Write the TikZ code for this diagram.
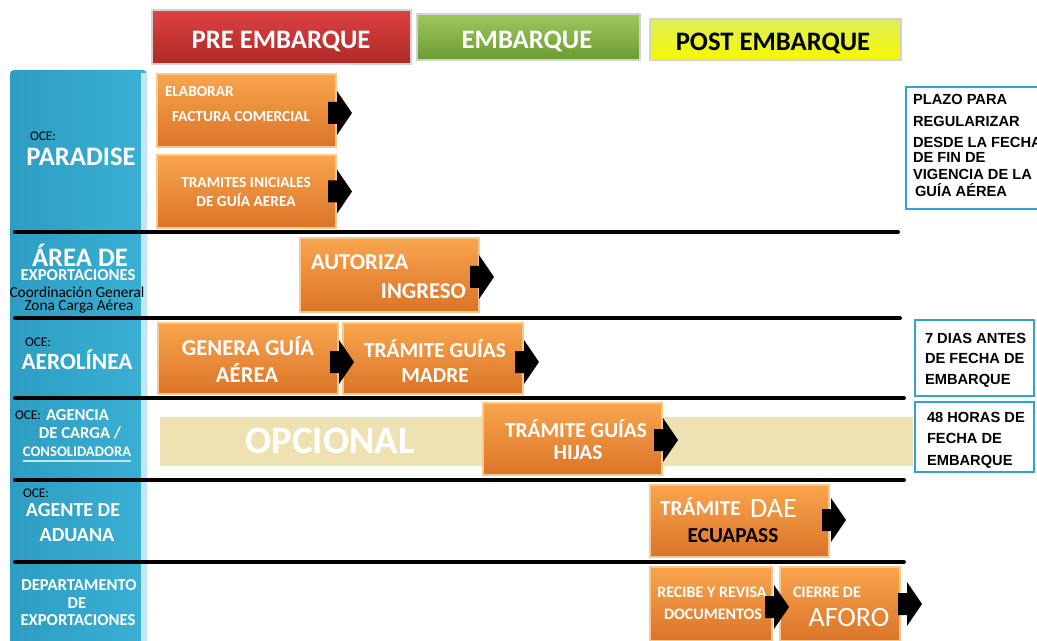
\documentclass[tikz,border=0pt]{standalone}
\usepackage{fontspec}
\setmainfont{Carlito}
\newfontfamily\notefont{Liberation Sans}
\usetikzlibrary{calc}

\definecolor{orTop}{HTML}{F9A54E}
\definecolor{orBot}{HTML}{DA7428}
\definecolor{orEdge}{HTML}{F8C98E}
\definecolor{redTop}{HTML}{DE4242}
\definecolor{redBot}{HTML}{AE2828}
\definecolor{grTop}{HTML}{9CC85E}
\definecolor{grBot}{HTML}{6C9A32}
\definecolor{ylTop}{HTML}{DDEE5C}
\definecolor{ylBot}{HTML}{F6F800}
\definecolor{colL}{HTML}{2E9DC3}
\definecolor{colR}{HTML}{3AB0D4}
\definecolor{colEdge}{HTML}{BFE8F4}
\definecolor{noteBlue}{HTML}{2EA3D5}
\definecolor{optBand}{HTML}{EEE2B3}

\newcommand\fsz[1]{\fontsize{#1pt}{#1pt}\selectfont}

\begin{document}
\begin{tikzpicture}[x=0.75pt,y=-0.75pt,
  every node/.style={inner sep=0pt,outer sep=0pt},
  sized/.style 2 args={anchor=north west,minimum width=#1*0.75pt,minimum height=#2*0.75pt},
  task/.style={draw=orEdge,line width=0.8pt,top color=orTop,bottom color=orBot},
  phase/.style={draw=gray!35,line width=0.8pt},
  note/.style={draw=noteBlue,line width=2.2pt,fill=white},
  lane/.style={line width=3pt,line cap=round},
  wt/.style={text=white,font=\bfseries\fsz{#1}},
  bk/.style={text=black,font=\bfseries\fsz{#1}},
  rg/.style={text=black,font=\fsz{#1}},
  wr/.style={text=white,font=\fsz{#1}},
  nt/.style={text=black,anchor=base west,font=\notefont\bfseries\fsz{11}},
  flowarrow/.pic={\fill[black] (-8,-11) -- (1,-11) -- (1,-22) -- (16,0) -- (1,22) -- (1,11) -- (-8,11) -- cycle;},
]
\path[use as bounding box] (0,0) rectangle (1037,641);
\clip (0,0) rectangle (1037,641);

% phase headers
\node[phase,sized={259}{54},top color=redTop,bottom color=redBot] (pre) at (152,10) {};
\node[phase,sized={223}{46},top color=grTop,bottom color=grBot] (emb) at (417,14) {};
\node[phase,sized={251}{41},top color=ylTop,bottom color=ylBot] (post) at (650,19) {};
\node[wt=20,anchor=base] (preT) at (281,49) {PRE EMBARQUE};
\node[wt=20,anchor=base] (embT) at (527,48.5) {EMBARQUE};
\node[bk=20,anchor=base] (postT) at (773,50.5) {POST EMBARQUE};

% actor column
\node[sized={137}{590},left color=colL,right color=colR,rounded corners=3pt] (lanes) at (10,70) {};
\fill[colEdge] (141,73) rectangle (147,660);

% lane separators
\draw[lane] (15,232) -- (898,232);
\draw[lane] (15,318) -- (900,318);
\draw[lane] (15,398) -- (904,398);
\draw[lane] (15,480) -- (904,480);
\draw[lane] (15,562) -- (904,562);

% actor labels
\node[rg=10,anchor=base west] (oce1) at (30,141) {OCE:};
\node[wt=20,anchor=base] (paradise) at (81,166) {PARADISE};
\node[wt=20,anchor=base] (area) at (80,267) {ÁREA DE};
\node[wt=12.5,anchor=base] (areaB) at (78,280.5) {EXPORTACIONES};
\node[rg=11.5,anchor=base] (coord) at (77,297) {Coordinación General};
\node[rg=11.5,anchor=base] (zona) at (79,310.5) {Zona Carga Aérea};
\node[rg=10,anchor=base west] (oce2) at (25,346) {OCE:};
\node[wt=17.5,anchor=base] (aero) at (77,369) {AEROLÍNEA};
\node[rg=10,anchor=base west] (oce3) at (15,419) {OCE:};
\node[wt=12.5,anchor=base west] (agencia) at (46,420.5) {AGENCIA};
\node[wt=12.5,anchor=base] (carga) at (80,438.5) {DE CARGA /};
\node[wt=11,anchor=base] (conso) at (77,456) {CONSOLIDADORA};
\draw[colEdge,line width=1.2pt] (conso.base west) ++(0,5) -- ($(conso.base east)+(0,5)$);
\node[rg=10,anchor=base west] (oce4) at (23,497) {OCE:};
\node[wt=15,anchor=base] (agente) at (73,516.5) {AGENTE DE};
\node[wt=15,anchor=base] (aduana) at (77,541.5) {ADUANA};
\node[wt=12.5,anchor=base] (depto) at (79,590.5) {DEPARTAMENTO};
\node[wt=12.5,anchor=base] (deptoB) at (77,608.5) {DE};
\node[wt=12.5,anchor=base] (deptoC) at (78,625.5) {EXPORTACIONES};

% optional band
\node[sized={753}{49},fill=optBand] (band) at (160,417) {};
\node[wt=29,anchor=base] (opc) at (330,453.5) {OPCIONAL};

% tasks
\node[task,sized={179}{73}] (fac) at (157,74) {};
\node[wt=11.5,anchor=base west] (facA) at (165,97) {ELABORAR};
\node[wt=11.5,anchor=base west] (facB) at (172,122) {FACTURA COMERCIAL};

\node[task,sized={179}{73}] (gui) at (157,155) {};
\node[wt=11.5,anchor=base] (guiA) at (246,188) {TRAMITES INICIALES};
\node[wt=11.5,anchor=base] (guiB) at (246,207) {DE GUÍA AEREA};

\node[task,sized={179}{74}] (aut) at (300,238) {};
\node[wt=17,anchor=base west] (autA) at (311,270) {AUTORIZA};
\node[wt=17,anchor=base east] (autB) at (466,298) {INGRESO};

\node[task,sized={180}{71}] (gen) at (158,323) {};
\node[wt=17,anchor=base] (genA) at (248,355) {GENERA GUÍA};
\node[wt=17,anchor=base] (genB) at (247,382) {AÉREA};

\node[task,sized={180}{71}] (mad) at (343,323) {};
\node[wt=16,anchor=base] (madA) at (435,357) {TRÁMITE GUÍAS};
\node[wt=16,anchor=base] (madB) at (435,382) {MADRE};

\node[task,sized={179}{72}] (hij) at (483,403) {};
\node[wt=16,anchor=base] (hijA) at (576,437) {TRÁMITE GUÍAS};
\node[wt=16,anchor=base] (hijB) at (578,459) {HIJAS};

\node[task,sized={179}{72}] (dae) at (650,485) {};
\node[wt=16,anchor=base west] (daeA) at (660,515) {TRÁMITE};
\node[wr=21,anchor=base west] (daeB) at (750,517) {DAE};
\node[bk=16,anchor=base] (daeC) at (733,542) {ECUAPASS};

\node[task,sized={122}{74}] (rec) at (650,567) {};
\node[wt=12,anchor=base] (recA) at (712,597) {RECIBE Y REVISA};
\node[wt=12,anchor=base] (recB) at (713,619) {DOCUMENTOS};

\node[task,sized={120}{74}] (cie) at (780,567) {};
\node[wt=12,anchor=base west] (cieA) at (793,597) {CIERRE DE};
\node[wr=21,anchor=base] (cieB) at (849,626) {AFORO};

% time notes
\node[note,sized={150}{122}] (plazo) at (906,87) {};
\node[nt] (plA) at (913,105) {PLAZO PARA};
\node[nt] (plB) at (913,127) {REGULARIZAR};
\node[nt] (plC) at (913,148) {DESDE LA FECHA};
\node[nt] (plD) at (913,163) {DE FIN DE};
\node[nt] (plE) at (913,180) {VIGENCIA DE LA};
\node[nt] (plF) at (915,197) {GUÍA AÉREA};

\node[note,sized={119}{76}] (siete) at (915,320) {};
\node[nt] (siA) at (925,343) {7 DIAS ANTES};
\node[nt] (siB) at (925,363) {DE FECHA DE};
\node[nt] (siC) at (925,384) {EMBARQUE};

\node[note,sized={119}{70}] (horas) at (915,402) {};
\node[nt] (hoA) at (927,422) {48 HORAS DE};
\node[nt] (hoB) at (927,443) {FECHA DE};
\node[nt] (hoC) at (927,465) {EMBARQUE};

% flow arrows
\pic at ($(fac.east)+(0,2.5)$) {flowarrow};
\pic at (gui.east) {flowarrow};
\pic at ($(aut.east)+(-1,2)$) {flowarrow};
\pic at ($(gen.east)+(0,3.5)$) {flowarrow};
\pic at ($(mad.east)+(0,3.5)$) {flowarrow};
\pic at ($(hij.east)+(0,1)$) {flowarrow};
\pic at ($(dae.east)+(1,-1)$) {flowarrow};
\pic at ($(rec.east)+(1,3)$) {flowarrow};
\pic at ($(cie.east)+(6,0)$) {flowarrow};
\end{tikzpicture}
\end{document}
